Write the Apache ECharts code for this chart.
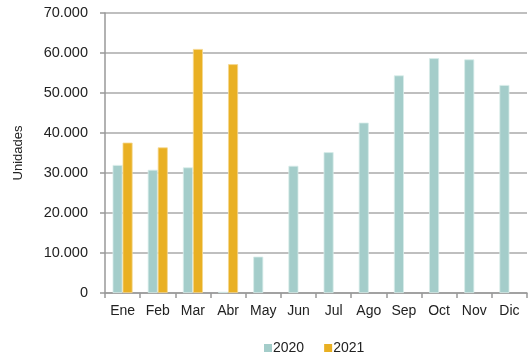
<!DOCTYPE html>
<html><head><meta charset="utf-8">
<script src="https://cdn.jsdelivr.net/npm/echarts@6/dist/echarts.min.js"></script>
<style>html,body{margin:0;padding:0;background:#fff}#c{width:528px;height:356px}</style>
</head><body><div id="c"></div>
<script>
const categories = ['Ene','Feb','Mar','Abr','May','Jun','Jul','Ago','Sep','Oct','Nov','Dic'];
const seriesNames = ['2020','2021'];
const values2020 = [32000,30800,31400,300,9100,31800,35200,42600,54400,58700,58400,52000];
const values2021 = [37600,36400,61000,57200,null,null,null,null,null,null,null,null];
const yTicks = {min:0,max:70000,interval:10000};

const chart = echarts.init(document.getElementById('c'), null, {renderer:'canvas'});
const font = '"Liberation Sans", Arial, sans-serif';
chart.setOption({
  animation:false,
  grid:{left:105,right:1,top:13,bottom:63},
  legend:{
    data:seriesNames, top:336, left:259, itemWidth:8, itemHeight:8, itemGap:20,
    icon:'rect',
    itemStyle:{borderWidth:0},
    textStyle:{fontFamily:font,fontSize:14,color:'#222',padding:[0,0,0,-4]}
  },
  xAxis:{
    type:'category', data:categories,
    axisLine:{lineStyle:{color:'#999',width:1.5}},
    axisTick:{show:true,length:5,lineStyle:{color:'#999',width:1.5}},
    axisLabel:{fontFamily:font,fontSize:14,color:'#222',margin:11}
  },
  yAxis:{
    type:'value', min:yTicks.min, max:yTicks.max, interval:yTicks.interval,
    name:'Unidades', nameLocation:'middle', nameGap:80,
    nameTextStyle:{fontFamily:font,fontSize:13,color:'#222'},
    axisLine:{show:true,lineStyle:{color:'#999',width:1.5}},
    axisTick:{show:true,length:5,lineStyle:{color:'#999',width:1.5}},
    splitLine:{lineStyle:{color:'#aaa',width:1.5}},
    axisLabel:{fontFamily:font,fontSize:14.5,color:'#222',margin:17,
      formatter:v=>v.toLocaleString('de-DE')}
  },
  series:[
    {name:seriesNames[0],type:'bar',data:values2020,barWidth:10,barGap:'0%',
     itemStyle:{color:'#a4cdca',borderColor:'#d8ecea',borderWidth:0.8}},
    {name:seriesNames[1],type:'bar',data:values2021,barWidth:10,barGap:'0%',
     itemStyle:{color:'#e9b023',borderColor:'#f5d890',borderWidth:0.8}}
  ]
});
</script></body></html>
